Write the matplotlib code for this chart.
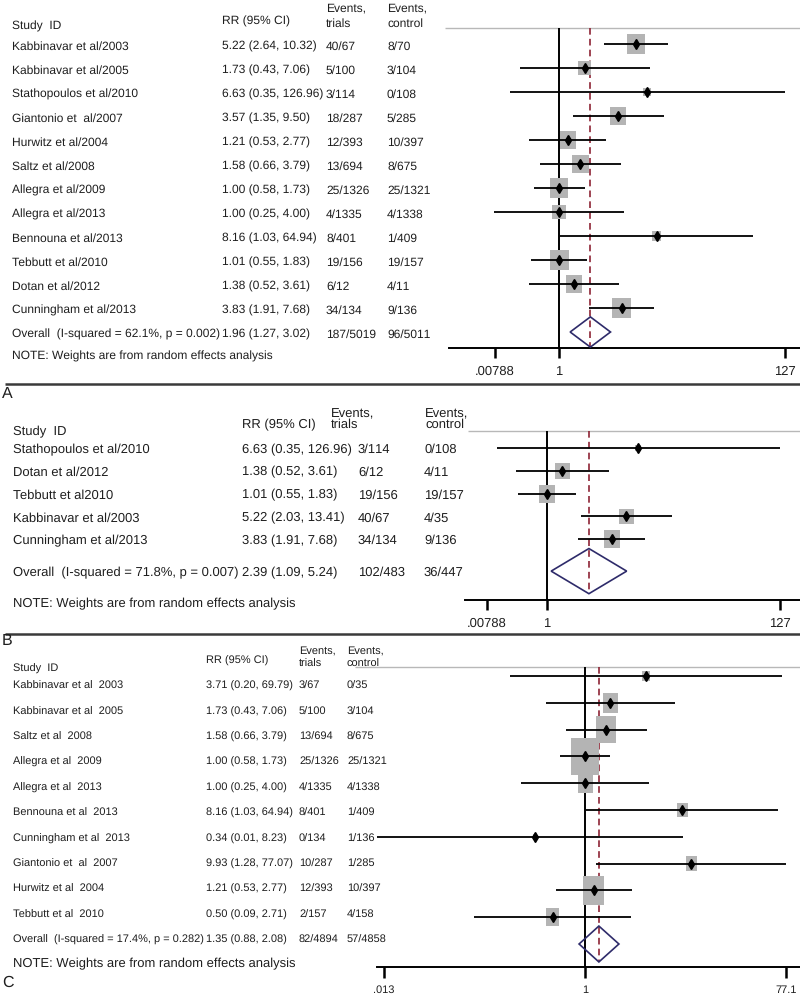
import numpy as np
import matplotlib
matplotlib.use("Agg")
import matplotlib.pyplot as plt
from matplotlib import font_manager
from matplotlib.ticker import NullLocator

plt.rcParams["text.hinting"] = "no_hinting"
plt.rcParams["text.hinting_factor"] = 1

# ---- panel A: all trials
STUDY_A = ["Kabbinavar et al/2003", "Kabbinavar et al/2005", "Stathopoulos et al/2010",
           "Giantonio et  al/2007", "Hurwitz et al/2004", "Saltz et al/2008",
           "Allegra et al/2009", "Allegra et al/2013", "Bennouna et al/2013",
           "Tebbutt et al/2010", "Dotan et al/2012", "Cunningham et al/2013"]
RR_A = [5.22, 1.73, 6.63, 3.57, 1.21, 1.58, 1.00, 1.00, 8.16, 1.01, 1.38, 3.83]
LO_A = [2.64, 0.43, 0.35, 1.35, 0.53, 0.66, 0.58, 0.25, 1.03, 0.55, 0.52, 1.91]
HI_A = [10.32, 7.06, 126.96, 9.50, 2.77, 3.79, 1.73, 4.00, 64.94, 1.83, 3.61, 7.68]
TRIALS_A = ["40/67", "5/100", "3/114", "18/287", "12/393", "13/694", "25/1326",
            "4/1335", "8/401", "19/156", "6/12", "34/134"]
CONTROL_A = ["8/70", "3/104", "0/108", "5/285", "10/397", "8/675", "25/1321",
             "4/1338", "1/409", "19/157", "4/11", "9/136"]
WEIGHT_A = [11.9, 6.1, 2.1, 8.7, 9.5, 9.5, 11.9, 6.1, 2.9, 11.9, 8.0, 11.4]
POOLED_A = [1.96, 1.27, 3.02]
HET_A = "Overall  (I-squared = 62.1%, p = 0.002)"
TOTAL_A = ["187/5019", "96/5011"]
TICKS_A = [0.253, 1, 127]
TICKLABELS_A = [".00788", "1", "127"]

# ---- panel B
STUDY_B = ["Stathopoulos et al/2010", "Dotan et al/2012", "Tebbutt et al2010",
           "Kabbinavar et al/2003", "Cunningham et al/2013"]
RR_B = [6.63, 1.38, 1.01, 5.22, 3.83]
LO_B = [0.35, 0.52, 0.55, 2.03, 1.91]
HI_B = [126.96, 3.61, 1.83, 13.41, 7.68]
TRIALS_B = ["3/114", "6/12", "19/156", "40/67", "34/134"]
CONTROL_B = ["0/108", "4/11", "19/157", "4/35", "9/136"]
WEIGHT_B = [3.8, 20.9, 27.2, 20.9, 27.2]
POOLED_B = [2.39, 1.09, 5.24]
HET_B = "Overall  (I-squared = 71.8%, p = 0.007)"
TOTAL_B = ["102/483", "36/447"]
TICKS_B = [0.287, 1, 127]
TICKLABELS_B = [".00788", "1", "127"]

# ---- panel C
STUDY_C = ["Kabbinavar et al  2003", "Kabbinavar et al  2005", "Saltz et al  2008",
           "Allegra et al  2009", "Allegra et al  2013", "Bennouna et al  2013",
           "Cunningham et al  2013", "Giantonio et  al  2007", "Hurwitz et al  2004",
           "Tebbutt et al  2010"]
RR_C = [3.71, 1.73, 1.58, 1.00, 1.00, 8.16, 0.34, 9.93, 1.21, 0.50]
LO_C = [0.20, 0.43, 0.66, 0.58, 0.25, 1.03, 0.01, 1.28, 0.53, 0.09]
HI_C = [69.79, 7.06, 3.79, 1.73, 4.00, 64.94, 8.23, 77.07, 2.77, 2.71]
TRIALS_C = ["3/67", "5/100", "13/694", "25/1326", "4/1335", "8/401", "0/134",
            "10/287", "12/393", "2/157"]
CONTROL_C = ["0/35", "3/104", "8/675", "25/1321", "4/1338", "1/409", "1/136",
             "1/285", "10/397", "4/158"]
WEIGHT_C = [2.6, 9.0, 16.0, 29.2, 9.0, 4.8, 0.6, 4.8, 17.6, 6.8]
POOLED_C = [1.35, 0.88, 2.08]
HET_C = "Overall  (I-squared = 17.4%, p = 0.282)"
TOTAL_C = ["82/4894", "57/4858"]
TICKS_C = [0.013, 1, 77.1]
TICKLABELS_C = [".013", "1", "77.1"]

NOTE = "NOTE: Weights are from random effects analysis"

W, H = 800, 999
INK = "#1e1e1e"
BOX = "#b4b4b4"
RED = "#8e2435"
NAVY = "#2e2b6a"
RULE = "#b8b8b8"

REG = "Liberation Sans"
# panel C is set in a condensed face; fall back to a smaller regular face
_names = {f.name for f in font_manager.fontManager.ttflist}
if "Liberation Sans Narrow" in _names:
    NARROW, NARROW_SCALE = "Liberation Sans Narrow", 1.0
else:
    NARROW, NARROW_SCALE = REG, 0.9

# layout per panel, pixel units measured from the top-left
LAY_A = dict(cols=[12, 222, 326, 387], hcols=[12, 222, 326, 387], fs=8.65, narrow=False,
             ty0=44.5, tdy=24, boff=5, note_y=360, note_fs=8.8,
             head=[30, 25, 11, 27], rule=(445, 28),
             L=449, T=28, B=348, x1=559, s=46.6, y0=44, dy=24, orow=12, dh=0.63,
             k=5.41, aspect=1.12, tick_len=7.5, tick_fs=9)
LAY_B = dict(cols=[13, 242, 358, 424], hcols=[13, 242, 331, 425], fs=9.1, narrow=False,
             ty0=448, tdy=22.8, boff=5, note_y=607, note_fs=9.1,
             head=[435, 428, 417, 428], rule=(468, 431),
             L=465, T=431, B=600, x1=547, s=48.1, y0=448, dy=22.8, orow=5.4, dh=0.99,
             k=3.07, aspect=1.12, tick_len=7.5, tick_fs=9)
LAY_C = dict(cols=[13, 206, 299, 347], hcols=[13, 206, 299, 347], fs=9.0, narrow=True,
             ty0=684.5, tdy=25.4, boff=4.5, note_y=967, note_fs=9.7,
             head=[672, 664, 654, 667], rule=(355, 667),
             L=377, T=667, B=967, x1=585, s=46.3, y0=676, dy=26.8, orow=10, dh=0.67,
             k=5.0, aspect=1.35, tick_len=8, tick_fs=9)


def panel(fig, bg, study, rr, lo, hi, trials, control, weight, pooled, het, total,
          ticks, ticklabels, lay):
    fam = NARROW if lay["narrow"] else REG
    scale = NARROW_SCALE if lay["narrow"] else 1.0
    kw = dict(fontsize=lay["fs"] * scale, family=fam, color=INK, va="baseline")
    c0, c1, c2, c3 = lay["cols"]
    h0, h1, h2, h3 = lay["hcols"]

    # column headers
    hs, hr, he1, he2 = lay["head"]
    bg.text(h0, hs, "Study  ID", **kw)
    bg.text(h1, hr, "RR (95% CI)", **kw)
    bg.text(h2, he1, "Events,", **kw)
    bg.text(h2, he2, "trials", **kw)
    bg.text(h3, he1, "Events,", **kw)
    bg.text(h3, he2, "control", **kw)
    rx, ry = lay["rule"]
    bg.plot([rx, W], [ry, ry], color=RULE, lw=1.0, solid_capstyle="butt")

    # study rows
    for i in range(len(study)):
        y = lay["ty0"] + i * lay["tdy"] + lay["boff"]
        bg.text(c0, y, study[i], **kw)
        bg.text(c1, y, f"{rr[i]:.2f} ({lo[i]:.2f}, {hi[i]:.2f})", **kw)
        bg.text(c2, y, trials[i], **kw)
        bg.text(c3, y, control[i], **kw)
    y = lay["ty0"] + lay["orow"] * lay["tdy"] + lay["boff"]
    bg.text(c0, y, het, **kw)
    bg.text(c1, y, f"{pooled[0]:.2f} ({pooled[1]:.2f}, {pooled[2]:.2f})", **kw)
    bg.text(c2, y, total[0], **kw)
    bg.text(c3, y, total[1], **kw)
    bg.text(c0, lay["note_y"], NOTE, fontsize=lay["note_fs"], family=REG,
            color=INK, va="baseline")

    # forest plot area
    L, T, B = lay["L"], lay["T"], lay["B"]
    ax = fig.add_axes([L / W, 1 - B / H, (W - L) / W, (B - T) / H])
    ax.patch.set_alpha(0)
    ax.set_xscale("log")
    ax.set_xlim(np.exp((L - lay["x1"]) / lay["s"]), np.exp((W - lay["x1"]) / lay["s"]))
    top = (T - lay["y0"]) / lay["dy"]
    ax.set_ylim((B - lay["y0"]) / lay["dy"], top)
    rows = np.arange(len(study))

    ax.axvline(1, color="black", lw=1.4, zorder=1)
    orow = lay["orow"]
    ax.plot([pooled[0]] * 2, [top, orow + lay["dh"]], color=RED, lw=1.2,
            dashes=(4, 2.5), zorder=1)

    a = lay["aspect"]
    rect = [(-1, -a), (1, -a), (1, a), (-1, a), (-1, -a)]
    side_pt = lay["k"] * np.sqrt(weight) * 0.72 * a
    ax.scatter(rr, rows, marker=rect, s=side_pt ** 2, color=BOX,
               edgecolors="none", zorder=2)
    ax.hlines(rows, lo, hi, color="black", lw=1.3, zorder=3)
    ax.plot(rr, rows, "d", ms=5.5, color="black", zorder=4)

    p, plo, phi = pooled
    ax.fill([plo, p, phi, p, plo], [orow, orow + lay["dh"], orow, orow - lay["dh"], orow],
            fill=False, edgecolor=NAVY, lw=1.2, zorder=3)

    for side in ("top", "left", "right"):
        ax.spines[side].set_visible(False)
    ax.spines["bottom"].set_linewidth(1.4)
    ax.set_yticks([])
    ax.set_xticks(ticks)
    ax.set_xticklabels(ticklabels)
    ax.xaxis.set_minor_locator(NullLocator())
    ax.tick_params(axis="x", direction="out", length=lay["tick_len"], width=1.8,
                   pad=5, labelsize=lay["tick_fs"] * scale, labelcolor=INK)
    for t in ax.get_xticklabels():
        t.set_family(fam)
    return ax


fig = plt.figure(figsize=(W / 100, H / 100), dpi=100)
fig.patch.set_facecolor("white")
bg = fig.add_axes([0, 0, 1, 1])
bg.set_xlim(0, W)
bg.set_ylim(H, 0)
bg.axis("off")

panel(fig, bg, STUDY_A, RR_A, LO_A, HI_A, TRIALS_A, CONTROL_A, WEIGHT_A,
      POOLED_A, HET_A, TOTAL_A, TICKS_A, TICKLABELS_A, LAY_A)
panel(fig, bg, STUDY_B, RR_B, LO_B, HI_B, TRIALS_B, CONTROL_B, WEIGHT_B,
      POOLED_B, HET_B, TOTAL_B, TICKS_B, TICKLABELS_B, LAY_B)
panel(fig, bg, STUDY_C, RR_C, LO_C, HI_C, TRIALS_C, CONTROL_C, WEIGHT_C,
      POOLED_C, HET_C, TOTAL_C, TICKS_C, TICKLABELS_C, LAY_C)

# panel separators and letters
for y in (384, 634):
    bg.plot([5, W], [y, y], color="#3a3a3a", lw=1.8, solid_capstyle="butt")
for letter, y in (("A", 398), ("B", 645), ("C", 987)):
    bg.text(2, y, letter, fontsize=11.5, family=REG, color=INK, va="baseline")

fig.savefig("out.png", dpi=100, facecolor="white")
